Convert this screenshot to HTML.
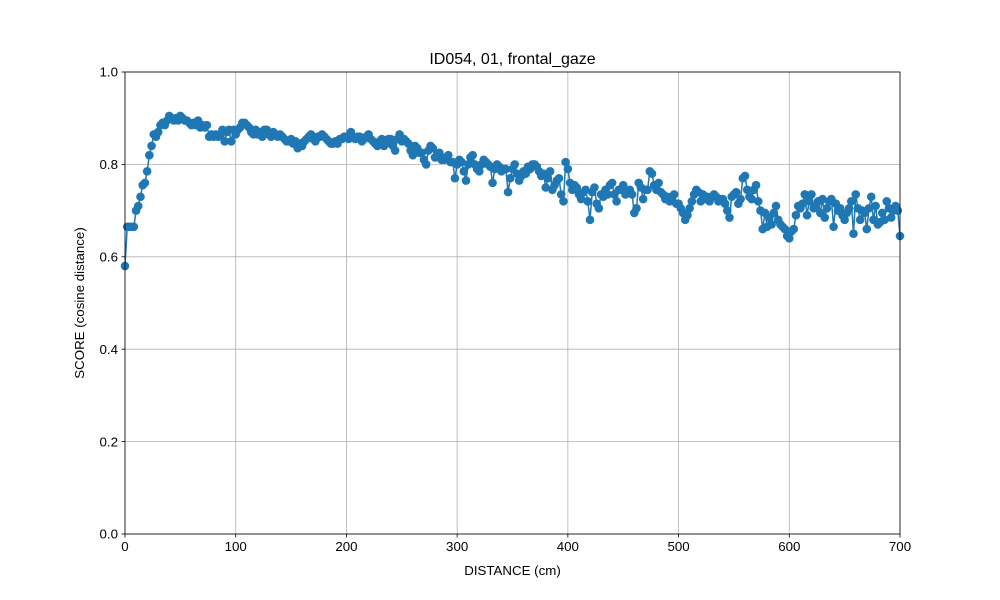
<!DOCTYPE html>
<html><head><meta charset="utf-8"><style>
body{margin:0;background:#fff;}
svg{display:block;font-family:"Liberation Sans","DejaVu Sans",sans-serif;}
</style></head><body>
<svg id="chart" width="1000" height="600">
<rect width="1000" height="600" fill="#fff"/>
<text x="512.5" y="64" text-anchor="middle" font-size="16">ID054, 01, frontal_gaze</text>
<text x="512.5" y="575" text-anchor="middle" font-size="13.3">DISTANCE (cm)</text>
<text x="0" y="0" transform="translate(84,303) rotate(-90)" text-anchor="middle" font-size="13.3">SCORE (cosine distance)</text>
<g id="grid"></g><g id="series"></g><g id="axes"></g>
</svg>
<script>
const distances = [0,2,4,6,8,10,12,14,16,18,20,22,24,26,28,30,32,34,36,38,40,42,44,46,48,50,52,54,56,58,60,62,64,66,68,70,72,74,76,78,80,82,84,86,88,90,92,94,96,98,100,102,104,106,108,110,112,114,116,118,120,122,124,126,128,130,132,134,136,138,140,142,144,146,148,150,152,154,156,158,160,162,164,166,168,170,172,174,176,178,180,182,184,186,188,190,192,194,196,198,200,202,204,206,208,210,212,214,216,218,220,222,224,226,228,230,232,234,236,238,240,242,244,246,248,250,252,254,256,258,260,262,264,266,268,270,272,274,276,278,280,282,284,286,288,290,292,294,296,298,300,302,304,306,308,310,312,314,316,318,320,322,324,326,328,330,332,334,336,338,340,342,344,346,348,350,352,354,356,358,360,362,364,366,368,370,372,374,376,378,380,382,384,386,388,390,392,394,396,398,400,402,404,406,408,410,412,414,416,418,420,422,424,426,428,430,432,434,436,438,440,442,444,446,448,450,452,454,456,458,460,462,464,466,468,470,472,474,476,478,480,482,484,486,488,490,492,494,496,498,500,502,504,506,508,510,512,514,516,518,520,522,524,526,528,530,532,534,536,538,540,542,544,546,548,550,552,554,556,558,560,562,564,566,568,570,572,574,576,578,580,582,584,586,588,590,592,594,596,598,600,602,604,606,608,610,612,614,616,618,620,622,624,626,628,630,632,634,636,638,640,642,644,646,648,650,652,654,656,658,660,662,664,666,668,670,672,674,676,678,680,682,684,686,688,690,692,694,696,698,700];
const scores = [0.58,0.665,0.665,0.665,0.665,0.70,0.71,0.73,0.755,0.76,0.785,0.82,0.84,0.865,0.86,0.87,0.885,0.89,0.885,0.895,0.905,0.90,0.895,0.90,0.895,0.905,0.90,0.895,0.895,0.89,0.885,0.89,0.885,0.895,0.88,0.885,0.88,0.885,0.86,0.865,0.86,0.865,0.86,0.865,0.875,0.85,0.87,0.875,0.85,0.875,0.865,0.875,0.88,0.89,0.89,0.885,0.88,0.87,0.865,0.875,0.865,0.87,0.86,0.875,0.875,0.865,0.86,0.87,0.865,0.86,0.865,0.86,0.855,0.85,0.85,0.855,0.845,0.85,0.835,0.845,0.84,0.85,0.855,0.86,0.865,0.855,0.85,0.86,0.86,0.865,0.86,0.855,0.85,0.845,0.845,0.85,0.845,0.855,0.855,0.86,0.86,0.855,0.87,0.86,0.855,0.86,0.86,0.85,0.855,0.86,0.865,0.855,0.85,0.845,0.84,0.85,0.855,0.84,0.845,0.855,0.855,0.84,0.83,0.855,0.865,0.85,0.855,0.85,0.845,0.83,0.82,0.84,0.835,0.825,0.825,0.81,0.80,0.83,0.84,0.835,0.815,0.82,0.825,0.81,0.81,0.815,0.82,0.805,0.805,0.77,0.80,0.81,0.805,0.785,0.765,0.80,0.815,0.82,0.80,0.79,0.785,0.80,0.81,0.805,0.80,0.795,0.76,0.79,0.80,0.795,0.785,0.79,0.79,0.74,0.77,0.79,0.80,0.78,0.765,0.775,0.785,0.78,0.795,0.79,0.80,0.80,0.795,0.785,0.775,0.78,0.75,0.77,0.785,0.745,0.755,0.765,0.77,0.735,0.72,0.805,0.79,0.76,0.745,0.755,0.75,0.735,0.725,0.74,0.745,0.72,0.68,0.74,0.75,0.715,0.705,0.735,0.73,0.745,0.735,0.755,0.76,0.735,0.72,0.745,0.745,0.755,0.735,0.74,0.745,0.735,0.695,0.705,0.76,0.75,0.725,0.745,0.745,0.785,0.78,0.755,0.745,0.76,0.74,0.735,0.725,0.73,0.72,0.73,0.735,0.715,0.715,0.705,0.695,0.68,0.69,0.705,0.72,0.735,0.745,0.74,0.72,0.735,0.725,0.73,0.72,0.73,0.735,0.73,0.72,0.725,0.725,0.715,0.70,0.685,0.73,0.735,0.74,0.715,0.725,0.77,0.775,0.745,0.73,0.725,0.745,0.755,0.72,0.70,0.66,0.695,0.665,0.685,0.67,0.695,0.71,0.68,0.67,0.665,0.66,0.645,0.64,0.655,0.66,0.69,0.71,0.705,0.715,0.735,0.69,0.72,0.735,0.705,0.71,0.72,0.695,0.725,0.685,0.705,0.72,0.725,0.665,0.715,0.70,0.705,0.69,0.68,0.695,0.705,0.72,0.65,0.735,0.705,0.68,0.70,0.695,0.66,0.705,0.73,0.68,0.71,0.67,0.675,0.695,0.68,0.72,0.705,0.685,0.70,0.71,0.70,0.645];
const xTicks = [0,100,200,300,400,500,600,700];
const yTicks = [0.0,0.2,0.4,0.6,0.8,1.0];
const L=125,R=900,T=72,B=534;
const xs=v=>L+(v-0)/700*(R-L);
const ys=v=>B-(v-0)/1*(B-T);
const NS='http://www.w3.org/2000/svg';
function mk(tag,attrs,parent){const e=document.createElementNS(NS,tag);for(const k in attrs)e.setAttribute(k,attrs[k]);parent.appendChild(e);return e;}
const grid=document.getElementById('grid'),axes=document.getElementById('axes'),ser=document.getElementById('series');
xTicks.forEach(t=>{const x=xs(t);
 const g=mk('line',{x1:x,x2:x,y1:T,y2:B,stroke:'#b0b0b0','stroke-width':0.8},grid);
 
 
 mk('line',{x1:x,x2:x,y1:B,y2:B+3.5,stroke:'#000','stroke-width':0.8},axes);
 const tx=mk('text',{x:x,y:B+17,'text-anchor':'middle','font-size':13.3},axes);tx.textContent=String(t);
 
 });
yTicks.forEach(t=>{const y=ys(t);
 const g=mk('line',{x1:L,x2:R,y1:y,y2:y,stroke:'#b0b0b0','stroke-width':0.8},grid);
 
 
 mk('line',{x1:L-3.5,x2:L,y1:y,y2:y,stroke:'#000','stroke-width':0.8},axes);
 const tx=mk('text',{x:L-7,y:y+4.7,'text-anchor':'end','font-size':13.3},axes);tx.textContent=t.toFixed(1);
 
 });
const frame=mk('rect',{x:L,y:T,width:R-L,height:B-T,fill:'none',stroke:'#000','stroke-width':0.8},axes);


const pts=distances.map((d,i)=>xs(d)+','+ys(scores[i])).join(' ');
const line=mk('polyline',{points:pts,fill:'none',stroke:'#1f77b4','stroke-width':1.5},ser);


distances.forEach((d,i)=>{const c=mk('circle',{cx:xs(d),cy:ys(scores[i]),r:4.3,fill:'#1f77b4'},ser);
 
 });
</script>
</body></html>
